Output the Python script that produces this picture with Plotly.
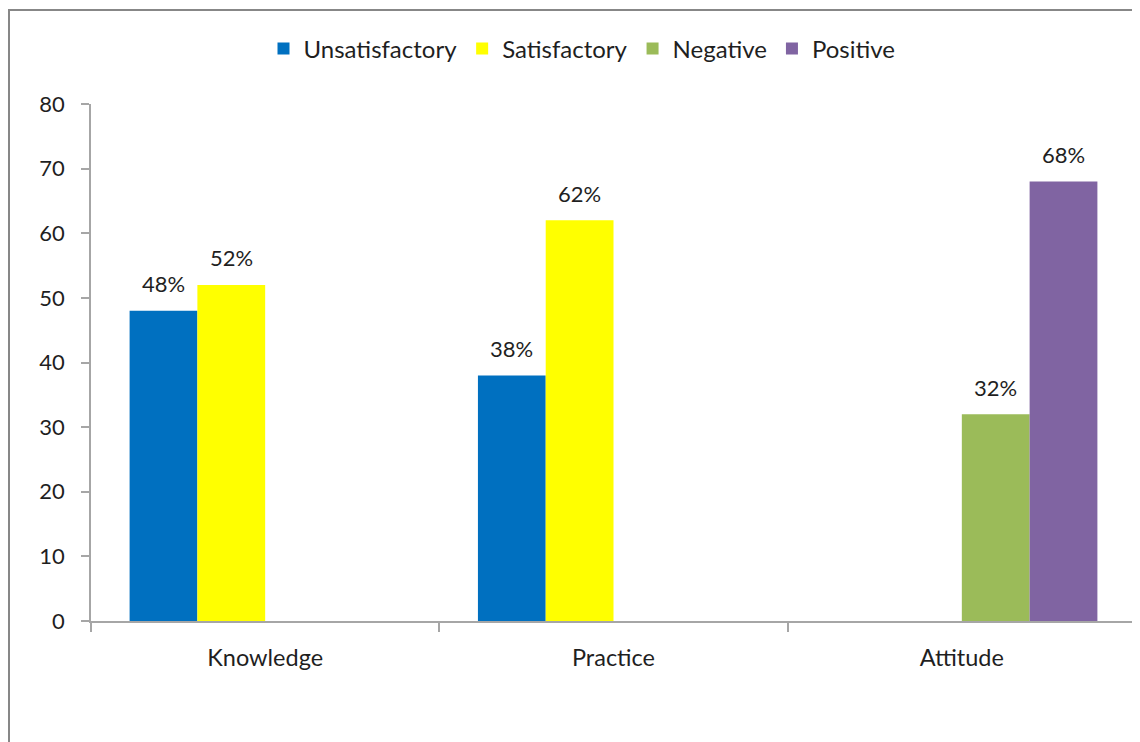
import plotly.graph_objects as go

categories = ["Knowledge", "Practice", "Attitude"]
series_names = ["Unsatisfactory", "Satisfactory", "Negative", "Positive"]
unsatisfactory = [48, 38, None]
satisfactory = [52, 62, None]
negative = [None, None, 32]
positive = [None, None, 68]
y_ticks = [0, 10, 20, 30, 40, 50, 60, 70, 80]

series_values = [unsatisfactory, satisfactory, negative, positive]
colors = ["#0070C0", "#FFFF00", "#9BBB59", "#8064A2"]

# page has an 8px body margin; figure coords = screen coords - 8
W, H = 1132, 734
ML, MR, MT, MB = 83, 4, 96, 121
FONT = "Lato"
TXT = "#1F1F1F"

fig = go.Figure()
for name, vals, col in zip(series_names, series_values, colors):
    fig.add_trace(go.Bar(
        name=name, x=categories, y=vals, marker=dict(color=col, line=dict(width=0)),
    ))

bargap = 0.2216
plot_w = W - ML - MR
plot_h = H - MT - MB
cat_w = plot_w / len(categories)
bar_w = cat_w * (1 - bargap) / len(series_names)
for si, vals in enumerate(series_values):
    for ci, v in enumerate(vals):
        if v is None:
            continue
        fig.add_annotation(
            x=categories[ci], y=v, text=f"{v}%", showarrow=False,
            xshift=(si - 1.5) * bar_w, yshift=27, yanchor="middle",
            font=dict(family=FONT, size=22, color=TXT),
        )

# chart frame (extends beyond the right and bottom edges of the picture)
px2x = lambda p: (p - ML) / plot_w
px2y = lambda p: (H - MB - p) / plot_h
fig.add_shape(type="rect", xref="paper", yref="paper",
              x0=px2x(1), x1=px2x(1160), y0=px2y(2), y1=px2y(760),
              line=dict(color="#878787", width=2), fillcolor="rgba(0,0,0,0)", layer="below")

fig.update_layout(
    width=W, height=H,
    margin=dict(l=ML, r=MR, t=MT, b=MB),
    barmode="group", bargap=bargap, bargroupgap=0,
    plot_bgcolor="white", paper_bgcolor="white",
    font=dict(family=FONT, size=22, color=TXT),
    showlegend=True,
    legend=dict(orientation="h", xref="container", yref="container",
                x=574 / W, xanchor="center", y=1 - 41 / H, yanchor="middle",
                font=dict(family=FONT, size=24, color=TXT),
                itemwidth=30, tracegroupgap=0),
    xaxis=dict(showline=True, linecolor="#A6A6A6", linewidth=1.5,
               ticks="outside", tickson="boundaries", ticklen=9, tickcolor="#A6A6A6",
               tickwidth=1.5, showgrid=False, ticklabelstandoff=15, fixedrange=True,
               tickfont=dict(family=FONT, size=23.5, color=TXT)),
    yaxis=dict(range=[0, 80], tickvals=y_ticks, showline=True, linecolor="#A6A6A6",
               linewidth=1.5, ticks="outside", ticklen=8, tickcolor="#A6A6A6",
               tickwidth=1.5, showgrid=False, zeroline=False, ticklabelstandoff=12,
               fixedrange=True, tickfont=dict(family=FONT, size=22, color=TXT)),
)

fig.write_html("out.html")
